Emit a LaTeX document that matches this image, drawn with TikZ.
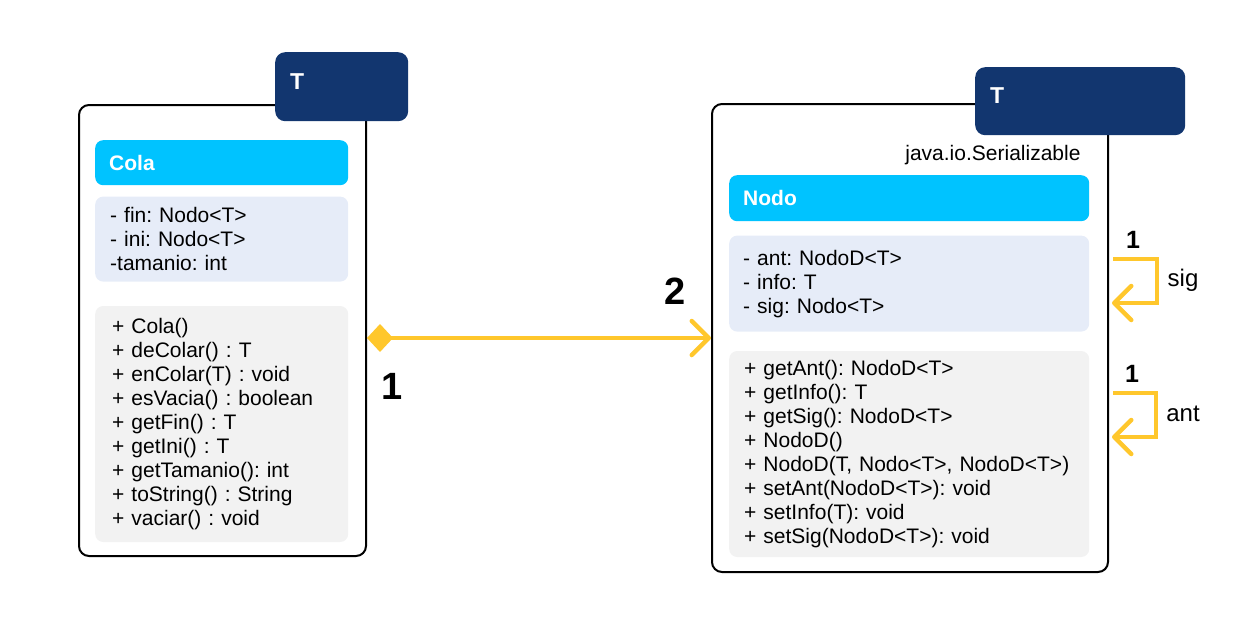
\documentclass[tikz,border=0pt]{standalone}
\usepackage{fontspec}
\setmainfont{Liberation Sans}
\usepackage{tikz}
\usetikzlibrary{positioning,arrows.meta}
\definecolor{navy}{HTML}{12366F}
\definecolor{headcyan}{HTML}{00C3FF}
\definecolor{attrfill}{HTML}{E6ECF8}
\definecolor{methfill}{HTML}{F2F2F2}
\definecolor{gold}{HTML}{FFC72C}
\newcommand{\txtfont}{\fontsize{21}{24}\selectfont}
\frenchspacing

\begin{document}
\begin{tikzpicture}[x=1pt, y=-1pt, node distance=11pt]
    \tikzstyle{classbox} = [rectangle, draw, line width=2pt, rounded corners=10pt, anchor=north west]
    \tikzstyle{tparam} = [rectangle, fill=navy, rounded corners=10pt, anchor=north west, text=white, font=\fontsize{23}{24}\selectfont\bfseries, align=left, inner xsep=15pt, text depth=11pt]
    \tikzstyle{head} = [rectangle, fill=headcyan, rounded corners=8pt, text=white, font=\txtfont\bfseries, align=left, inner xsep=14pt]
    \tikzstyle{attrs} = [rectangle, fill=attrfill, rounded corners=8pt, font=\txtfont, align=left, inner xsep=15pt]
    \tikzstyle{methods} = [rectangle, fill=methfill, rounded corners=8pt, font=\txtfont, align=left, inner xsep=17pt]
    \tikzstyle{arrow} = [line width=4.5pt, draw=gold, -{Straight Barb[length=17pt, width=34pt, round]}]
    \tikzstyle{mult} = [font=\fontsize{38}{38}\selectfont\bfseries]
    \tikzstyle{smallmult} = [font=\fontsize{25}{25}\selectfont\bfseries]
    \tikzstyle{role} = [font=\fontsize{24}{24}\selectfont]

    \useasboundingbox (0,0) rectangle (1244,626);

    % class Cola
    \node [classbox, minimum width=287pt, minimum height=451pt] (colabox) at (78,104) {};
    \node [tparam, minimum width=133pt, minimum height=69pt, text width=103pt] (colaT) at (275,52) {T};
    \node [head, anchor=north west, minimum width=253pt, minimum height=45pt, text width=225pt] (colahead) at (95,140) {Cola};
    \node [attrs, below=11pt of colahead.south west, anchor=north west, minimum width=253pt, minimum height=85pt, text width=223pt] (colaattr) {- fin: Nodo<T>\\- ini: Nodo<T>\\-tamanio: int};
    \node [methods, below=24pt of colaattr.south west, anchor=north west, minimum width=253pt, minimum height=236pt, text width=219pt] (colameth) {+ Cola()\\+ deColar() : T\\+ enColar(T) : void\\+ esVacia() : boolean\\+ getFin() : T\\+ getIni() : T\\+ getTamanio(): int\\+ toString() : String\\+ vaciar() : void};

    % class Nodo
    \node [classbox, minimum width=396pt, minimum height=468pt] (nodobox) at (711,103) {};
    \node [tparam, minimum width=210pt, minimum height=68pt, text width=180pt] (nodoT) at (975,67) {T};
    \node [font=\txtfont, anchor=base east] (nodoiface) at (1084,160) {java.io.Serializable};
    \node [head, anchor=north west, minimum width=360pt, minimum height=46pt, text width=332pt] (nodohead) at (729,175) {Nodo};
    \node [attrs, below=14pt of nodohead.south west, anchor=north west, minimum width=360pt, minimum height=96pt, text width=332pt, inner xsep=14pt] (nodoattr) {- ant: NodoD<T>\\- info: T\\- sig: Nodo<T>};
    \node [methods, below=19pt of nodoattr.south west, anchor=north west, minimum width=360pt, minimum height=206pt, text width=330pt, inner xsep=15pt] (nodometh) {+ getAnt(): NodoD<T>\\+ getInfo(): T\\+ getSig(): NodoD<T>\\+ NodoD()\\+ NodoD(T, Nodo<T>, NodoD<T>)\\+ setAnt(NodoD<T>): void\\+ setInfo(T): void\\+ setSig(NodoD<T>): void};

    % composition
    \draw [line width=4.5pt, draw=gold, {Diamond[length=26pt, width=28pt]}-{Straight Barb[length=17pt, width=34pt, round]}] (colabox.east |- nodobox.west) -- (nodobox.west);
    \node [mult] (mcola) at (392,386) {1};
    \node [mult] (mnodo) at (675,291) {2};

    % self references
    \coordinate (sigA) at ([xshift=4pt]nodobox.east |- 0,259);
    \coordinate (sigB) at ([xshift=3pt]nodobox.east |- 0,303);
    \draw [arrow] (sigA) -- ++(44,0) |- (sigB);
    \node [smallmult] (msig) at (1133,240) {1};
    \node [role] (rsig) at (1183,280) {sig};

    \coordinate (antA) at ([xshift=4pt]nodobox.east |- 0,393);
    \coordinate (antB) at ([xshift=3pt]nodobox.east |- 0,437);
    \draw [arrow] (antA) -- ++(43,0) |- (antB);
    \node [smallmult] (mant) at (1132,374) {1};
    \node [role] (rant) at (1183,414) {ant};
\end{tikzpicture}
\end{document}
